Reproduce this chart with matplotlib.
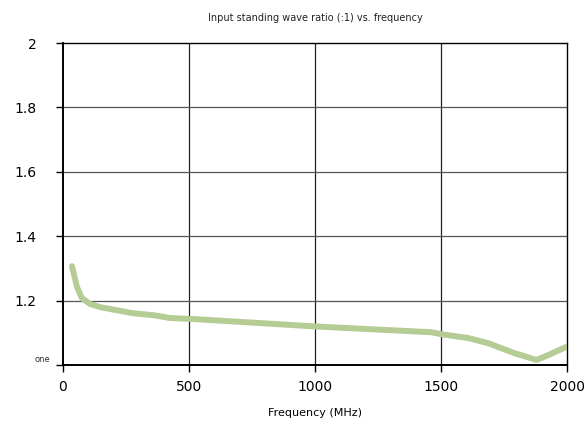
import matplotlib
matplotlib.use('Agg')
import matplotlib.pyplot as plt
import matplotlib.transforms as mtransforms

freq = [36, 56, 75, 107, 147, 278, 358, 425, 517, 1000, 1460, 1500, 1606, 1686, 1790, 1877, 1924, 2000]
vswr = [1.307, 1.242, 1.208, 1.19, 1.18, 1.161, 1.155, 1.146, 1.143, 1.12, 1.102, 1.096, 1.084, 1.068, 1.037, 1.016, 1.031, 1.058]

xticks = [0, 500, 1000, 1500, 2000]
yticks = [1, 1.2, 1.4, 1.6, 1.8, 2]
ylabels = ['one', '1.2', '1.4', '1.6', '1.8', '2']

fig = plt.figure(figsize=(5.88, 4.26), dpi=100)
ax = fig.add_axes([0.107, 0.143, 0.858, 0.756])

ax.plot(freq, vswr, color='#b5cc95', linewidth=4.3, solid_capstyle='round', solid_joinstyle='round', zorder=3)

ax.set_xlim(0, 2000)
ax.set_ylim(1, 2)
ax.set_xticks(xticks)
ax.set_yticks(yticks)
ax.set_yticklabels(ylabels)
ax.tick_params(axis='x', labelsize=10, length=5, width=1, pad=6)
ax.tick_params(axis='y', length=5, width=1, pad=14)
for lab in ax.get_yticklabels():
    if lab.get_text() == 'one':
        lab.set_fontsize(6)
        lab.set_color('#333333')
        lab.set_transform(lab.get_transform() + mtransforms.ScaledTranslation(14 / 100, 7 / 100, fig.dpi_scale_trans))
    else:
        lab.set_fontsize(10)

for x in xticks[1:-1]:
    ax.axvline(x, color='#222222', linewidth=0.9, zorder=1)
for y in yticks[1:-1]:
    ax.axhline(y, color='#555555', linewidth=0.9, zorder=1)

ax.spines['top'].set_linewidth(1.0)
ax.spines['right'].set_linewidth(1.0)
ax.spines['left'].set_linewidth(1.4)
ax.spines['bottom'].set_linewidth(1.4)

ax.set_title('Input standing wave ratio (:1) vs. frequency', fontsize=7, pad=16, color='#222222')
ax.set_xlabel('Frequency (MHz)', fontsize=8, labelpad=10)

fig.savefig('out.png', dpi=100)
